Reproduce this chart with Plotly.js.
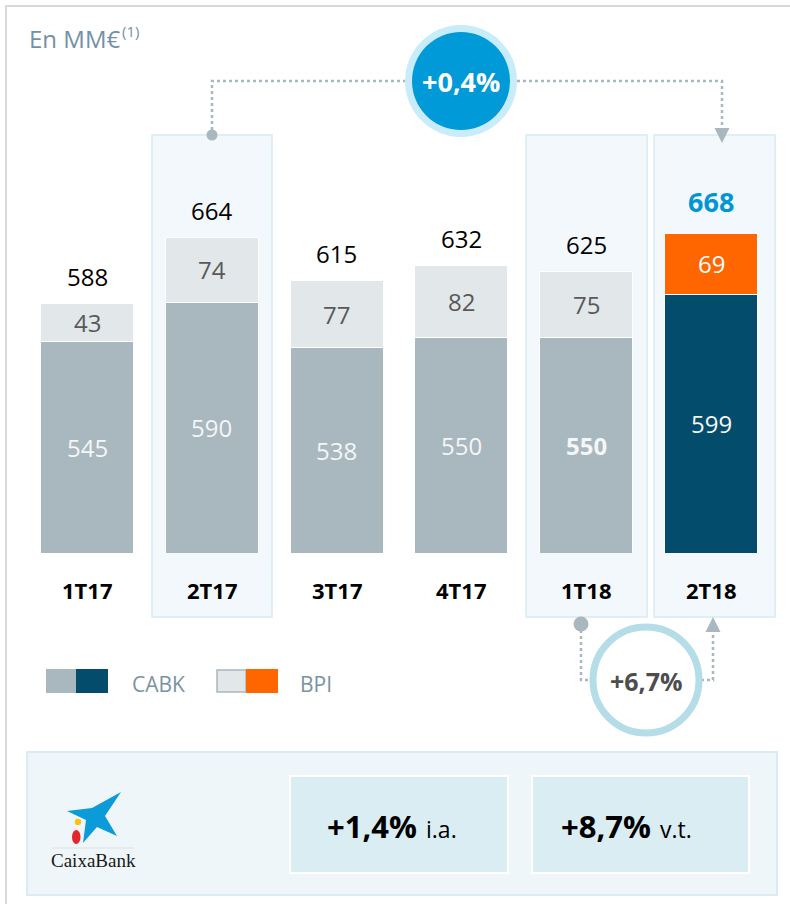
<!DOCTYPE html>
<html>
<head>
<meta charset="utf-8">
<script src="https://cdn.plot.ly/plotly-3.0.1.min.js"></script>
<style>html,body{margin:0;padding:0;background:#fff;}#chart{width:790px;height:904px;}</style>
</head>
<body>
<div id="chart"></div>
<script>
// ---- data ----
const categories = ['1T17', '2T17', '3T17', '4T17', '1T18', '2T18'];
const cabk = [545, 590, 538, 550, 550, 599];
const bpi = [43, 74, 77, 82, 75, 69];
const totals = [588, 664, 615, 632, 625, 668];
const changeQoQ = '+6,7%';
const changeYoY = '+0,4%';
const summaryA = ['+1,4%', 'i.a.'];
const summaryB = ['+8,7%', 'v.t.'];
const unitsLabel = ['En MM€', '(1)'];

// ---- geometry helpers ----
const W = 790, H = 904, PLOT_B = 553;
const AXIS_FLOOR = 305;
const PX_PER_UNIT = 0.88;
const CAT_STEP = 124.8, CAT0 = 87;
const px = x => x / W;
const py = y => (PLOT_B - y) / PLOT_B;

const FONT = 'Open Sans, Lato, sans-serif';
const cabkColors = categories.map((c, i) => i === categories.length - 1 ? '#044C6B' : '#A9B7BE');
const bpiColors = categories.map((c, i) => i === categories.length - 1 ? '#FF6600' : '#E2E7EA');

const traces = [
  {type: 'bar', x: categories, y: cabk, name: 'CABK', width: 0.745,
   marker: {color: cabkColors, line: {color: '#ffffff', width: 1}}, hoverinfo: 'skip'},
  {type: 'bar', x: categories, y: bpi, name: 'BPI', width: 0.745,
   marker: {color: bpiColors, line: {color: '#ffffff', width: 1}}, hoverinfo: 'skip'}
];

const annotations = [];
const last = categories.length - 1;
function ann(o) {
  return Object.assign({showarrow: false, xanchor: 'center', yanchor: 'middle'}, o);
}
categories.forEach((c, i) => {
  annotations.push(ann({x: c, y: (AXIS_FLOOR + cabk[i]) / 2, xref: 'x', yref: 'y',
    text: i === 4 ? '<b>' + cabk[i] + '</b>' : String(cabk[i]),
    font: {family: FONT, size: 24, color: '#F4F6F7'}}));
  annotations.push(ann({x: c, y: cabk[i] + bpi[i] / 2, xref: 'x', yref: 'y',
    text: String(bpi[i]),
    font: {family: FONT, size: 24, color: i === last ? '#ffffff' : '#595959'}}));
  annotations.push(ann({x: c, y: totals[i], xref: 'x', yref: 'y',
    yshift: i === last ? 32 : 27,
    text: i === last ? '<b>' + totals[i] + '</b>' : String(totals[i]),
    font: {family: FONT, size: i === last ? 27 : 24, color: i === last ? '#0096D6' : '#000000'}}));
  annotations.push(ann({x: c, y: py(590), xref: 'x', yref: 'paper',
    text: '<b>' + c + '</b>', font: {family: FONT, size: 22, color: '#000000'}}));
});

annotations.push(
  ann({x: px(27), y: py(39), xref: 'paper', yref: 'paper', xanchor: 'left',
   text: unitsLabel[0], font: {family: FONT, size: 24, color: '#7391A6'}}),
  ann({x: px(120), y: py(31), xref: 'paper', yref: 'paper', xanchor: 'left',
   text: unitsLabel[1], font: {family: FONT, size: 15, color: '#7391A6'}}),
  ann({x: px(461), y: py(82), xref: 'paper', yref: 'paper',
   text: '<b>' + changeYoY + '</b>', font: {family: FONT, size: 27, color: '#ffffff'}}),
  ann({x: px(646), y: py(681), xref: 'paper', yref: 'paper',
   text: '<b>' + changeQoQ + '</b>', font: {family: FONT, size: 25, color: '#4D4D4D'}}),
  ann({x: px(130), y: py(684), xref: 'paper', yref: 'paper', xanchor: 'left',
   text: 'CABK', font: {family: FONT, size: 21, color: '#7A93A3'}}),
  ann({x: px(298), y: py(684), xref: 'paper', yref: 'paper', xanchor: 'left',
   text: 'BPI', font: {family: FONT, size: 21, color: '#7A93A3'}}),
  ann({x: px(419), y: py(826), xref: 'paper', yref: 'paper', xanchor: 'right',
   text: '<b>' + summaryA[0] + '</b>', font: {family: FONT, size: 31, color: '#000000'}}),
  ann({x: px(424), y: py(826), xref: 'paper', yref: 'paper', xanchor: 'left', yshift: -3,
   text: summaryA[1], font: {family: FONT, size: 23, color: '#000000'}}),
  ann({x: px(653), y: py(826), xref: 'paper', yref: 'paper', xanchor: 'right',
   text: '<b>' + summaryB[0] + '</b>', font: {family: FONT, size: 31, color: '#000000'}}),
  ann({x: px(658), y: py(826), xref: 'paper', yref: 'paper', xanchor: 'left', yshift: -3,
   text: summaryB[1], font: {family: FONT, size: 23, color: '#000000'}}),
  ann({x: px(93), y: py(861), xref: 'paper', yref: 'paper',
   text: 'CaixaBank', font: {family: 'Liberation Serif, DejaVu Serif, serif', size: 19, color: '#1a1a1a'}})
);

function rect(x0, y0, x1, y1, fill, line, lw, layer) {
  return {type: 'rect', xref: 'paper', yref: 'paper', x0: px(x0), x1: px(x1), y0: py(y0), y1: py(y1),
    fillcolor: fill, line: {color: line || 'rgba(0,0,0,0)', width: lw || 0}, layer: layer || 'above'};
}
function circle(cx, cy, r, fill, line, lw) {
  return {type: 'circle', xref: 'paper', yref: 'paper', x0: px(cx - r), x1: px(cx + r), y0: py(cy + r), y1: py(cy - r),
    fillcolor: fill, line: {color: line || 'rgba(0,0,0,0)', width: lw || 0}, layer: 'above'};
}
function pathPx(pts, closed) {
  return pts.map((p, i) => (i === 0 ? 'M' : 'L') + px(p[0]).toFixed(5) + ',' + py(p[1]).toFixed(5)).join(' ') + (closed ? ' Z' : '');
}
function path(pts, opts) {
  return Object.assign({type: 'path', xref: 'paper', yref: 'paper', path: pathPx(pts, opts.closed), layer: 'above'}, opts.style);
}

const DOT = '#A9B7BE';
const shapes = [
  path([[6, 904], [6, 6], [790, 6]], {style: {line: {color: '#D9D9D9', width: 2}}}),
  rect(152, 135, 272, 617, '#F3F8FC', '#D6EAF3', 1.5, 'below'),
  rect(526, 135, 647, 617, '#F3F8FC', '#D6EAF3', 1.5, 'below'),
  rect(654, 135, 775, 617, '#F3F8FC', '#D6EAF3', 1.5, 'below'),
  path([[212, 130], [212, 81], [722, 81], [722, 128]], {style: {line: {color: DOT, width: 2.5, dash: 'dot'}}}),
  circle(212, 135, 5.5, DOT),
  path([[714.5, 128], [729.5, 128], [722, 143]], {closed: true, style: {fillcolor: DOT, line: {width: 0}}}),
  circle(461, 81, 56, '#C8ECFA'),
  circle(461, 81, 49, '#009AD9'),
  path([[581, 630], [581, 680], [592, 680]], {style: {line: {color: DOT, width: 2.5, dash: 'dot'}}}),
  path([[701, 680], [713, 680], [713, 632]], {style: {line: {color: DOT, width: 2.5, dash: 'dot'}}}),
  circle(581, 624, 7.5, DOT),
  path([[705.5, 632], [720.5, 632], [713, 617]], {closed: true, style: {fillcolor: DOT, line: {width: 0}}}),
  circle(646, 680, 53, '#ffffff', '#B5DDE8', 7),
  rect(46, 669, 76, 693, '#A9B7BE'),
  rect(76, 669, 108, 693, '#044C6B'),
  rect(217, 670, 246, 692, '#E2E7EA', '#A9B7BE', 1.5),
  rect(246, 669, 278, 693, '#FF6600'),
  rect(27, 752, 777, 895, '#EEF6F9', '#DAEBF2', 2),
  rect(290, 776, 508, 873, '#DAEDF3', '#ffffff', 2),
  rect(532, 776, 749, 873, '#DAEDF3', '#ffffff', 2),
  path([[67, 811], [92, 808], [121, 792], [105, 816], [117, 836], [97, 827], [83, 843], [86, 820]],
       {closed: true, style: {fillcolor: '#0A9BD8', line: {width: 0}}}),
  circle(78, 822, 3.2, '#FFC20E'),
  {type: 'circle', xref: 'paper', yref: 'paper', x0: px(72), x1: px(80.5), y0: py(844), y1: py(830),
   fillcolor: '#E3262B', line: {width: 0}, layer: 'above'},
  path([[52, 848], [134, 848]], {style: {line: {color: '#E0E0E0', width: 1}}})
];

const layout = {
  width: W, height: H,
  margin: {l: 0, r: 0, t: 0, b: H - PLOT_B, pad: 0},
  paper_bgcolor: '#ffffff', plot_bgcolor: 'rgba(0,0,0,0)',
  barmode: 'stack', showlegend: false,
  xaxis: {type: 'category', range: [-CAT0 / CAT_STEP, (W - CAT0) / CAT_STEP], visible: false, fixedrange: true},
  yaxis: {range: [AXIS_FLOOR, AXIS_FLOOR + PLOT_B / PX_PER_UNIT], visible: false, fixedrange: true},
  annotations: annotations,
  shapes: shapes
};

Plotly.newPlot('chart', traces, layout, {displayModeBar: false, staticPlot: true});
</script>
</body>
</html>
